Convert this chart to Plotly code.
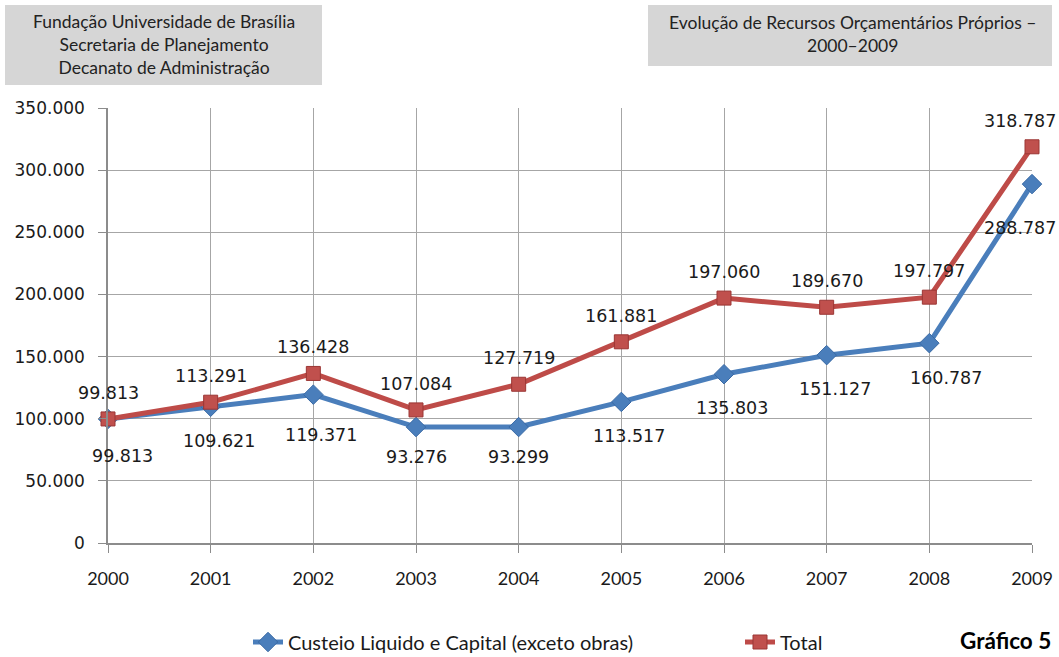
import plotly.graph_objects as go

# ---- data ----
years = [2000, 2001, 2002, 2003, 2004, 2005, 2006, 2007, 2008, 2009]
custeio = [99813, 109621, 119371, 93276, 93299, 113517, 135803, 151127, 160787, 288787]
total = [99813, 113291, 136428, 107084, 127719, 161881, 197060, 189670, 197797, 318787]
series_names = ["Custeio Liquido e Capital (exceto obras)", "Total"]
y_ticks = [0, 50000, 100000, 150000, 200000, 250000, 300000, 350000]

# ---- layout constants (pixels) ----
W, H = 1059, 657
L, R, T, B = 108, 1032, 108, 543   # plot area edges in px

def px(x):
    return (x - L) / (R - L)

def py(y):
    return (B - y) / (B - T)

BLUE = "#4a7ebb"
RED = "#be4b48"
LABEL_FONT = dict(family="DejaVu Sans", size=17.5, color="#1a1a1a")

# label offsets (dx, dy) in px, dy positive = down
blue_off_default = (8, 34)
blue_off = {2000: (14, 37), 2002: (8, 40), 2003: (0, 30), 2004: (0, 30),
            2008: (17, 35), 2009: (-12, 44)}
red_off_default = (0, -26)
red_off = {2009: (-12, -26)}

def fmt(v):
    return f"{v:,}".replace(",", ".")

fig = go.Figure()
fig.add_trace(go.Scatter(
    x=years, y=custeio, name=series_names[0], mode="lines+markers",
    line=dict(color=BLUE, width=5),
    marker=dict(symbol="diamond", size=15, color=BLUE, line=dict(color="#3a6aa5", width=1)),
    cliponaxis=False, legend="legend",
))
fig.add_trace(go.Scatter(
    x=years, y=total, name=series_names[1], mode="lines+markers",
    line=dict(color=RED, width=5),
    marker=dict(symbol="square", size=14, color="#c0504d", line=dict(color="#9b3634", width=1)),
    cliponaxis=False, legend="legend2",
))

annotations = []
for yr, v in zip(years, custeio):
    dx, dy = blue_off.get(yr, blue_off_default)
    annotations.append(dict(x=yr, y=v, xref="x", yref="y", text=fmt(v), showarrow=False,
                            xshift=dx, yshift=-dy, font=LABEL_FONT))
for yr, v in zip(years, total):
    dx, dy = red_off.get(yr, red_off_default)
    annotations.append(dict(x=yr, y=v, xref="x", yref="y", text=fmt(v), showarrow=False,
                            xshift=dx, yshift=-dy, font=LABEL_FONT))

HEAD_FONT = dict(family="Lato", size=17.5, color="#222222")
annotations.append(dict(
    x=px(164), y=py(45), xref="paper", yref="paper", showarrow=False,
    text="Fundação Universidade de Brasília<br>Secretaria de Planejamento<br>Decanato de Administração",
    font=HEAD_FONT, align="center", xanchor="center", yanchor="middle"))
annotations.append(dict(
    x=px(852), y=py(34), xref="paper", yref="paper", showarrow=False,
    text="Evolução de Recursos Orçamentários Próprios –<br>2000–2009",
    font=HEAD_FONT, align="center", xanchor="center", yanchor="middle"))
annotations.append(dict(
    x=px(1053), y=py(640), xref="paper", yref="paper", showarrow=False,
    text="<b>Gráfico 5</b>", font=dict(family="Lato", size=22.5, color="#000000"),
    xanchor="right", yanchor="middle"))

shapes = [
    dict(type="rect", xref="paper", yref="paper", x0=px(5), x1=px(322), y0=py(85), y1=py(5),
         fillcolor="#d6d6d6", line=dict(width=0), layer="below"),
    dict(type="rect", xref="paper", yref="paper", x0=px(648), x1=px(1052), y0=py(66), y1=py(5),
         fillcolor="#d6d6d6", line=dict(width=0), layer="below"),
]

LEG_FONT = dict(family="Lato", size=20, color="#1a1a1a")
GRID = "#a6a6a6"
fig.update_layout(
    width=W, height=H,
    margin=dict(l=L, r=W - R, t=T, b=H - B, pad=0),
    paper_bgcolor="white", plot_bgcolor="white",
    separators=",.",
    showlegend=True,
    legend=dict(orientation="h", xref="container", yref="container",
                x=248 / W, y=(H - 642) / H, xanchor="left", yanchor="middle",
                font=LEG_FONT, bgcolor="rgba(0,0,0,0)"),
    legend2=dict(orientation="h", xref="container", yref="container",
                 x=740 / W, y=(H - 642) / H, xanchor="left", yanchor="middle",
                 font=LEG_FONT, bgcolor="rgba(0,0,0,0)"),
    xaxis=dict(range=[2000, 2009], tickvals=years, showgrid=True, gridcolor=GRID, gridwidth=1,
               showline=True, linecolor="#8c8c8c", linewidth=1.5, ticks="outside", ticklen=8,
               tickcolor="#8c8c8c", tickfont=dict(family="Lato", size=18, color="#1a1a1a"),
               ticklabelstandoff=11, zeroline=False, fixedrange=True, automargin=False),
    yaxis=dict(range=[0, 350000], tickvals=y_ticks, tickformat=",d", showgrid=True,
               gridcolor=GRID, gridwidth=1, showline=True, linecolor="#8c8c8c", linewidth=1.5,
               ticks="outside", ticklen=8, tickcolor="#8c8c8c",
               tickfont=dict(family="DejaVu Sans", size=17, color="#1a1a1a"),
               ticklabelstandoff=10, zeroline=False, fixedrange=True, automargin=False),
    annotations=annotations,
    shapes=shapes,
)

fig.write_html("out.html")
